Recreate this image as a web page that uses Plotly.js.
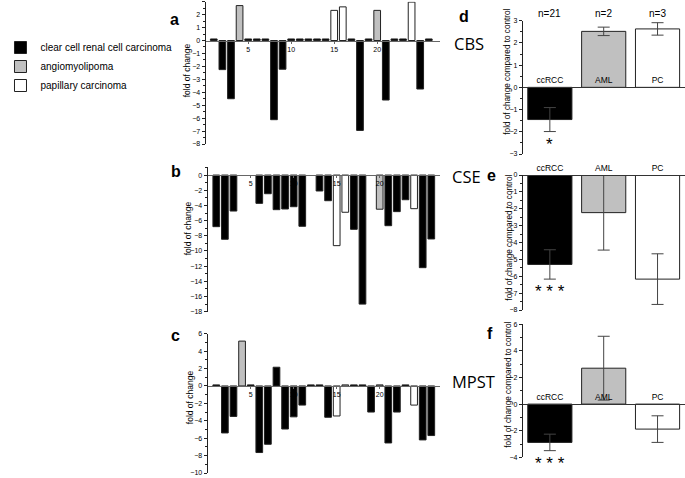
<!DOCTYPE html>
<html>
<head>
<meta charset="utf-8">
<script src="https://cdn.plot.ly/plotly-3.0.1.min.js"></script>
<style>html,body{margin:0;padding:0;background:#fff;}#chart{width:685px;height:478px;}</style>
</head>
<body>
<div id="chart"></div>
<script>
// ---------- data ----------
const samples = [1,2,3,4,5,6,7,8,9,10,11,12,13,14,15,16,17,18,19,20,21,22,23,24,25,26];
const sampleType = ['cc','cc','cc','aml','cc','cc','cc','cc','cc','cc','cc','cc','cc','cc','pc','pc','cc','cc','cc','aml','cc','cc','cc','pc','cc','cc'];
const cbsFold  = [0.12,-2.25,-4.5,2.7,0.12,0.12,0.12,-6.12,-2.22,0.12,0.12,0.12,0.12,0.12,2.33,2.6,0.12,-6.95,0.12,2.33,-4.6,0.12,0.12,2.97,-3.75,0.12];
const cseFold  = [-6.8,-8.46,-4.74,null,null,-3.73,-2.46,-4.56,-4.47,-4.17,-6.75,null,-2.1,-3.38,-9.3,-4.9,-7.15,-17.0,null,-4.5,-6.67,-4.82,-3.25,-4.43,-12.2,-8.42];
const mpstFold = [0.12,-5.4,-3.5,5.15,0.12,-7.65,-6.7,2.15,-4.95,-3.55,-2.2,0.12,0.12,-3.6,-3.45,0.12,0.12,0.12,-3.0,0.12,-6.55,-3.0,0.12,-2.2,-6.2,-5.7];
const sampleTicks = [5,10,15,20];

const typeKeys   = ['cc','aml','pc'];
const typeNames  = ['clear cell renal cell carcinoma','angiomyolipoma','papillary carcinoma'];

const groups   = ['ccRCC','AML','PC'];
const nLabels  = ['n=21','n=2','n=3'];
const cbsMean  = [-1.45, 2.52, 2.63];
const cbsErr   = [0.54, 0.19, 0.28];
const cseMean  = [-5.3, -2.23, -6.17];
const cseErr   = [0.87, 2.22, 1.5];
const mpstMean = [-2.88, 2.7, -1.88];
const mpstErr  = [0.62, 2.4, 1.0];
const cbsSig   = ['*','',''];
const cseSig   = ['* * *','',''];
const mpstSig  = ['* * *','',''];

const geneNames = ['CBS','CSE','MPST'];
const panelLetters = ['a','b','c','d','e','f'];

// ---------- styling ----------
const W = 685, H = 478;
const FONT = 'Liberation Sans, Arial, Helvetica, sans-serif';
const typeColors  = ['#000000','#c0c0c0','#ffffff'];
const groupColors = ['#000000','#c0c0c0','#ffffff'];
const px2x = p => p / W;
const px2y = p => 1 - p / H;
const xd = (l, r) => [px2x(l), px2x(r)];
const yd = (t, b) => [px2y(b), px2y(t)];
function zeroPos(dom, rng) { return dom[0] + (0 - rng[0]) / (rng[1] - rng[0]) * (dom[1] - dom[0]); }

const leftPanels = [
  {fold: cbsFold,  xa: 'x',  ya: 'y',  xdom: xd(189, 432), xr: [0.056, 27.36], ydom: yd(1.7, 144),   yr: [-8, 3],    dt: 1, mdt: 0.5},
  {fold: cseFold,  xa: 'x2', ya: 'y2', xdom: xd(191, 432), xr: [-0.01, 27.07], ydom: yd(166.7, 311.7), yr: [-18, 1.1], dt: 2, mdt: 1},
  {fold: mpstFold, xa: 'x3', ya: 'y3', xdom: xd(191, 432), xr: [-0.01, 27.07], ydom: yd(333.7, 473), yr: [-10, 6],   dt: 2, mdt: 1}
];
const rightPanels = [
  {mean: cbsMean,  err: cbsErr,  sig: cbsSig,  xa: 'x4', ya: 'y4', ydom: yd(20.7, 154),  yr: [-3, 3], dt: 1, mdt: 0.5},
  {mean: cseMean,  err: cseErr,  sig: cseSig,  xa: 'x5', ya: 'y5', ydom: yd(175, 310),   yr: [-8, 0], dt: 1, mdt: 0.5},
  {mean: mpstMean, err: mpstErr, sig: mpstSig, xa: 'x6', ya: 'y6', ydom: yd(324.3, 457.3), yr: [-4, 6], dt: 2, mdt: 1}
];
const rightXdom = xd(517.3, 685);
const rightXr = [-0.5, 2.51];

const traces = [];
const layout = {
  width: W, height: H,
  margin: {l: 0, r: 0, t: 0, b: 0},
  paper_bgcolor: '#fff', plot_bgcolor: 'rgba(0,0,0,0)',
  font: {family: FONT, size: 8, color: '#000'},
  barmode: 'overlay',
  showlegend: true,
  legend: {x: -0.034, y: px2y(33), xanchor: 'left', yanchor: 'top', font: {size: 10, family: FONT},
           bgcolor: 'rgba(0,0,0,0)', tracegroupgap: 0, itemwidth: 30, traceorder: 'normal'},
  annotations: [],
  shapes: []
};

function yAxisStyle(p, xa) {
  return {
    domain: p.ydom, range: p.yr, anchor: xa, showline: true, linecolor: '#222', linewidth: 1,
    ticks: 'outside', ticklen: 3, tickwidth: 1, tickcolor: '#222', dtick: p.dt, tick0: 0,
    minor: {ticks: 'outside', ticklen: 2, dtick: p.mdt, tickcolor: '#222', showgrid: false},
    tickfont: {size: 7, family: FONT}, showgrid: false, zeroline: false, fixedrange: true
  };
}

// left panels: one bar trace per tumour type
leftPanels.forEach((p, pi) => {
  typeKeys.forEach((k, ti) => {
    const xs = [], ys = [];
    samples.forEach((s, i) => { if (sampleType[i] === k) { xs.push(s); ys.push(p.fold[i]); } });
    traces.push({
      type: 'bar', x: xs, y: ys, xaxis: p.xa, yaxis: p.ya, width: 0.78,
      name: typeNames[ti], legendgroup: k, showlegend: pi === 0,
      marker: {color: typeColors[ti], line: {color: '#222', width: 1}},
      hoverinfo: 'x+y'
    });
  });
  const xk = p.xa === 'x' ? 'xaxis' : 'xaxis' + p.xa.slice(1);
  const yk = p.ya === 'y' ? 'yaxis' : 'yaxis' + p.ya.slice(1);
  layout[xk] = {
    domain: p.xdom, range: p.xr, anchor: 'free', position: zeroPos(p.ydom, p.yr),
    showline: true, linecolor: '#666', linewidth: 1, tickvals: sampleTicks,
    ticks: 'outside', ticklen: 2, tickcolor: '#666', tickfont: {size: 7, family: FONT},
    showgrid: false, zeroline: false, fixedrange: true
  };
  layout[yk] = yAxisStyle(p, p.xa);
});

// right panels: group means with error bars
rightPanels.forEach((p, pi) => {
  traces.push({
    type: 'bar', x: groups, y: p.mean, xaxis: p.xa, yaxis: p.ya, width: 0.82, showlegend: false,
    marker: {color: groupColors, line: {color: '#222', width: 1}},
    error_y: {type: 'data', array: p.err, visible: true, color: '#444', thickness: 1, width: 6},
    hoverinfo: 'x+y'
  });
  const xk = 'xaxis' + p.xa.slice(1);
  const yk = 'yaxis' + p.ya.slice(1);
  layout[xk] = {
    domain: rightXdom, range: rightXr, type: 'category', anchor: 'free', position: zeroPos(p.ydom, p.yr),
    side: 'top', showline: true, linecolor: '#333', linewidth: 1, ticks: '', ticklabelstandoff: 1,
    tickfont: {size: 8.5, family: FONT}, showgrid: false, zeroline: false, fixedrange: true
  };
  layout[yk] = yAxisStyle(p, p.xa);
  p.sig.forEach((s, i) => {
    if (!s) return;
    layout.annotations.push({xref: p.xa, yref: p.ya, x: groups[i], y: p.mean[i] - p.err[i],
      text: s, showarrow: false, yanchor: 'top', yshift: -1, font: {size: 17, family: FONT}});
  });
});

// n labels over panel d
nLabels.forEach((t, i) => {
  layout.annotations.push({xref: 'x4', yref: 'paper', x: groups[i], y: px2y(13), text: t,
    showarrow: false, yanchor: 'middle', font: {size: 10, family: FONT}});
});

// panel letters
const letterPos = [[157, 19], [158, 172], [157.5, 335], [456, 17], [485, 175], [483, 333]];
panelLetters.forEach((l, i) => {
  layout.annotations.push({xref: 'paper', yref: 'paper', x: px2x(letterPos[i][0]), y: px2y(letterPos[i][1]),
    text: '<b>' + l + '</b>', showarrow: false, xanchor: 'center', yanchor: 'middle',
    font: {size: 16, family: FONT}});
});

// gene names
const genePos = [[462, 43], [459, 176], [466, 381]];
geneNames.forEach((g, i) => {
  layout.annotations.push({xref: 'paper', yref: 'paper', x: px2x(genePos[i][0]), y: px2y(genePos[i][1]),
    text: g, showarrow: false, xanchor: 'center', yanchor: 'middle',
    font: {size: 16.5, family: 'Open Sans, Lato, sans-serif'}});
});

// y-axis titles
const leftTitlePos = [[170, 70], [171, 228], [173, 397]];
leftTitlePos.forEach(pos => {
  layout.annotations.push({xref: 'paper', yref: 'paper', x: px2x(pos[0]), y: px2y(pos[1]),
    text: 'fold of change', textangle: -90, showarrow: false, xanchor: 'center', yanchor: 'middle',
    font: {size: 8.5, family: FONT}});
});
const rightTitlePos = [[501.5, 72], [502.5, 238], [501.5, 385]];
rightTitlePos.forEach(pos => {
  layout.annotations.push({xref: 'paper', yref: 'paper', x: px2x(pos[0]), y: px2y(pos[1]),
    text: 'fold of change compared to control', textangle: -90, showarrow: false,
    xanchor: 'center', yanchor: 'middle', font: {size: 8.2, family: FONT}});
});

Plotly.newPlot('chart', traces, layout, {staticPlot: true, displayModeBar: false});
</script>
</body>
</html>
